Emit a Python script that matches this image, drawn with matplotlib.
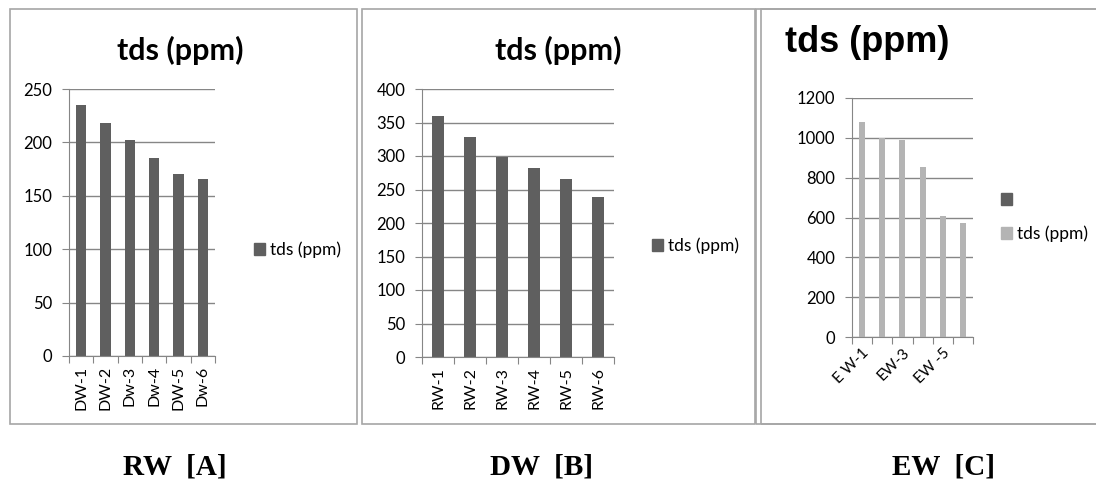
import matplotlib
matplotlib.use('Agg')
import matplotlib.pyplot as plt
from matplotlib.patches import Rectangle, Patch
import numpy as np

# Data
labels_a = ['DW-1', 'DW-2', 'Dw-3', 'Dw-4', 'DW-5', 'Dw-6']
tds_a = [235, 218, 202, 185, 170, 166]
labels_b = ['RW-1', 'RW-2', 'RW-3', 'RW-4', 'RW-5', 'RW-6']
tds_b = [359, 329, 299, 282, 265, 239]
labels_c = ['E W-1', 'EW-2', 'EW-3', 'EW-4', 'EW -5', 'EW-6']
tds_c = [1078, 1001, 989, 852, 609, 571]
captions = ['RW  [A]', 'DW  [B]', 'EW  [C]']

W, H = 1096, 480
DARK = '#5f5f5f'
LIGHT = '#b4b4b4'
GRID = '#868686'
FRAME = '#a6a6a6'
BODY_FONT = ['Lato', 'DejaVu Sans']


def px_axes(fig, left, top, right, bottom):
    return fig.add_axes([left / W, 1 - bottom / H, (right - left) / W, (bottom - top) / H])


def frame(fig, left, top, right, bottom):
    fig.patches.append(Rectangle((left / W, 1 - bottom / H), (right - left) / W, (bottom - top) / H,
                                 transform=fig.transFigure, fill=False, edgecolor=FRAME, linewidth=1.2))


def style_axes(ax, n, ymax, step, show_labels):
    ax.set_xlim(-0.5, n - 0.5)
    ax.set_ylim(0, ymax)
    ax.set_yticks(np.arange(0, ymax + 1, step))
    ax.yaxis.grid(True, color=GRID, linewidth=1)
    ax.set_axisbelow(True)
    for s in ['top', 'right']:
        ax.spines[s].set_visible(False)
    for s in ['left', 'bottom']:
        ax.spines[s].set_color(GRID)
    # category boundaries carry the tick marks, labels sit on the centres
    ax.set_xticks(np.arange(-0.5, n, 1.0))
    ax.set_xticklabels([])
    ax.tick_params(axis='x', which='major', length=5, color=GRID, direction='out')
    ax.tick_params(axis='y', length=5, color=GRID, direction='out', labelsize=12, pad=7)
    ax.set_xticks([i for i in range(n) if show_labels[i]], minor=True)
    for lab in ax.get_yticklabels():
        lab.set_family(BODY_FONT)


def add_legend(fig, handles, x, y, spacing=0.5):
    fig.legend(handles=handles, loc='center left', bbox_to_anchor=(x / W, 1 - y / H), frameon=False,
               prop={'family': BODY_FONT, 'size': 12.5}, handlelength=0.65, handleheight=0.65,
               handletextpad=0.3, labelspacing=spacing, borderaxespad=0)


fig = plt.figure(figsize=(W / 100, H / 100), dpi=100)

# Panel frames
frame(fig, 10, 9, 357, 424)
frame(fig, 362, 9, 755, 424)
frame(fig, 756, 9, 1100, 424)
frame(fig, 761, 9, 1100, 424)

# Panel A
ax = px_axes(fig, 69, 89, 215, 356)
ax.bar(range(len(tds_a)), tds_a, width=0.42, color=DARK)
style_axes(ax, len(labels_a), 250, 50, [True] * 6)
ax.set_xticklabels(labels_a, minor=True, rotation=90, fontsize=11.5, family=BODY_FONT)
ax.tick_params(axis='x', which='minor', length=0, pad=7)
fig.text(180 / W, 1 - 50 / H, 'tds (ppm)', ha='center', va='center', fontsize=22,
         fontweight='bold', family=BODY_FONT)
add_legend(fig, [Patch(color=DARK, label='tds (ppm)')], 247, 250)

# Panel B
ax = px_axes(fig, 422, 89, 614, 357)
ax.bar(range(len(tds_b)), tds_b, width=0.4, color=DARK)
style_axes(ax, len(labels_b), 400, 50, [True] * 6)
ax.set_xticklabels(labels_b, minor=True, rotation=90, fontsize=11.5, family=BODY_FONT)
ax.tick_params(axis='x', which='minor', length=0, pad=7)
fig.text(558 / W, 1 - 50 / H, 'tds (ppm)', ha='center', va='center', fontsize=22,
         fontweight='bold', family=BODY_FONT)
add_legend(fig, [Patch(color=DARK, label='tds (ppm)')], 645, 246)

# Panel C
ax = px_axes(fig, 852, 98, 973, 337)
ax.bar(range(len(tds_c)), tds_c, width=0.3, color=LIGHT)
shown = [True, False, True, False, True, False]
style_axes(ax, len(labels_c), 1200, 200, shown)
ax.set_xticklabels([l for l, s in zip(labels_c, shown) if s], minor=True, rotation=45, ha='right',
                   rotation_mode='anchor', fontsize=11, family=BODY_FONT)
ax.tick_params(axis='x', which='minor', length=0, pad=6)
fig.text(785 / W, 1 - 43 / H, 'tds (ppm)', ha='left', va='center', fontsize=26,
         fontweight='bold', family=['Liberation Sans', 'DejaVu Sans'])
add_legend(fig, [Patch(color=DARK, label=' '), Patch(color=LIGHT, label='tds (ppm)')], 994, 217,
           spacing=1.0)

# Captions under the panels
for x, cap in zip([175, 542, 944], captions):
    fig.text(x / W, 1 - 467 / H, cap, ha='center', va='center', fontsize=21, fontweight='bold',
             family=['Liberation Serif', 'DejaVu Serif'])

fig.savefig('out.png', dpi=100)
